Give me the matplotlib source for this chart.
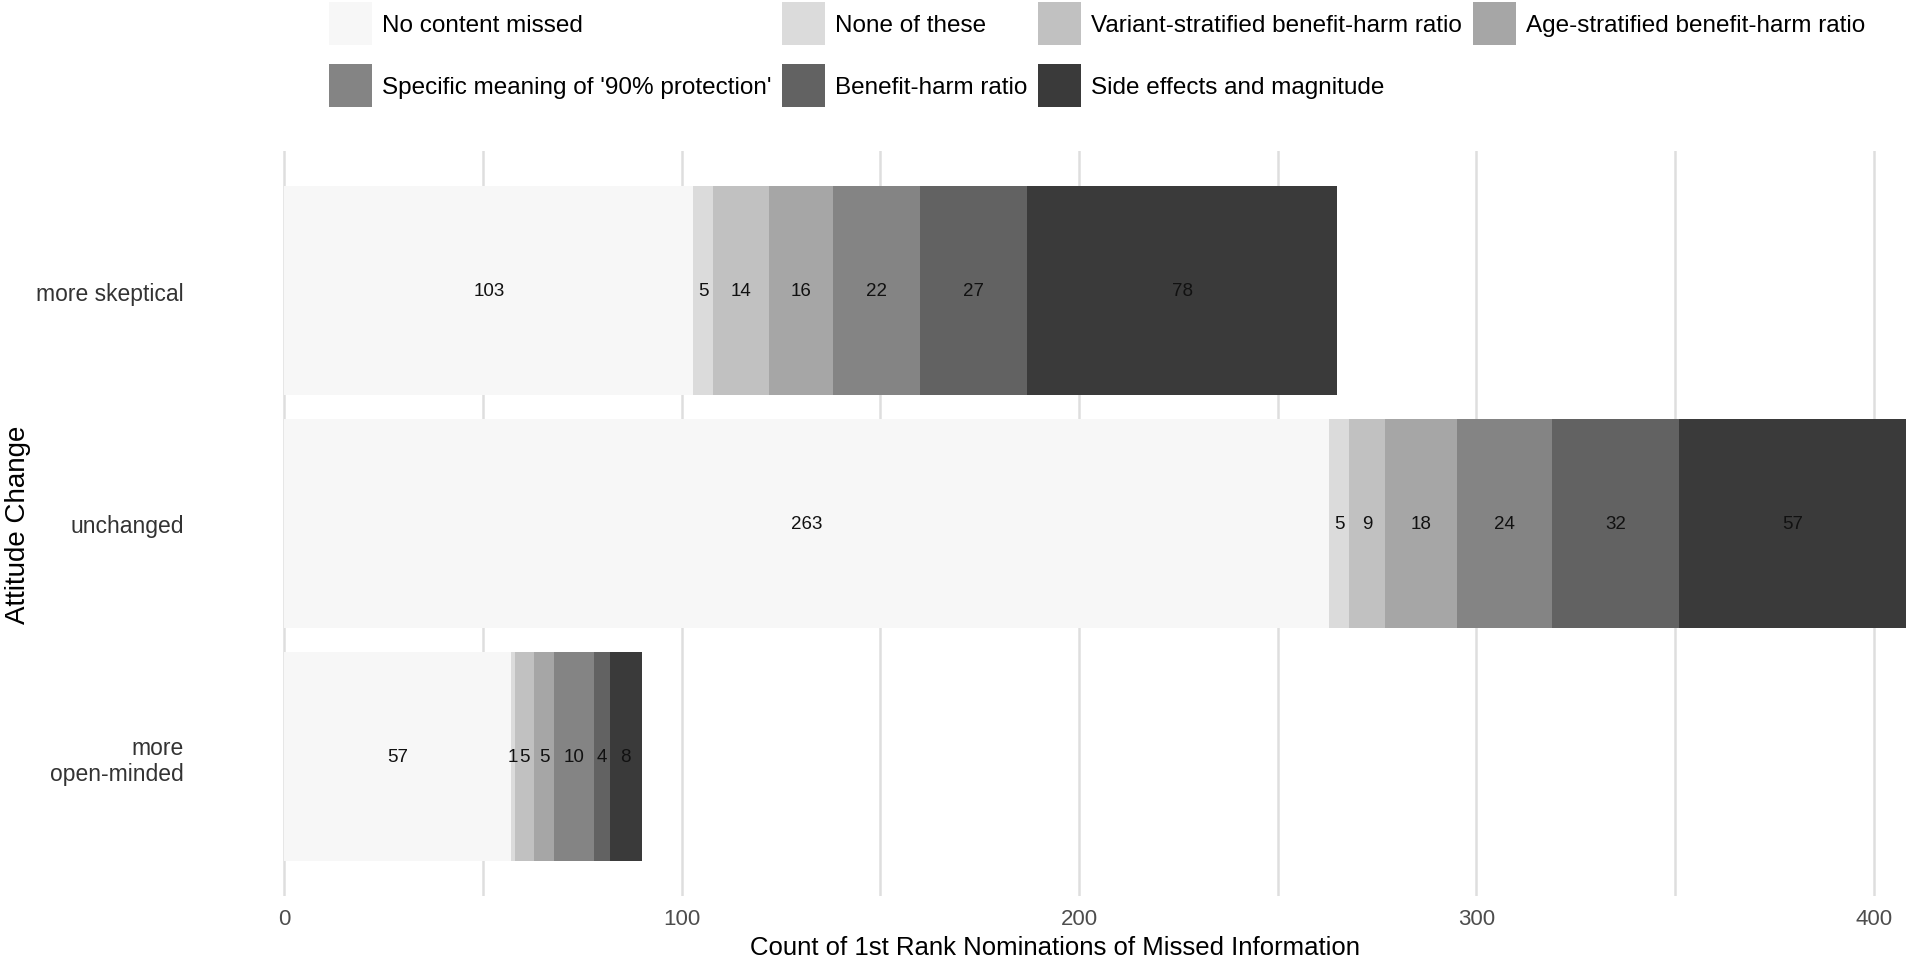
import matplotlib.pyplot as plt
from matplotlib.patches import Patch
import numpy as np

plt.rcParams["font.family"] = ["Liberation Sans", "DejaVu Sans"]

categories = ["more\nopen-minded", "unchanged", "more skeptical"]
segments = [
    "No content missed",
    "None of these",
    "Variant-stratified benefit-harm ratio",
    "Age-stratified benefit-harm ratio",
    "Specific meaning of '90% protection'",
    "Benefit-harm ratio",
    "Side effects and magnitude",
]
# counts per segment, ordered as categories (open-minded, unchanged, skeptical)
no_content = [57, 263, 103]
none_of_these = [1, 5, 5]
variant_ratio = [5, 9, 14]
age_ratio = [5, 18, 16]
meaning_90 = [10, 24, 22]
benefit_harm = [4, 32, 27]
side_effects = [8, 57, 78]

colors = ["#f7f7f7", "#dbdbdb", "#c1c1c1", "#a6a6a6", "#848484", "#626262", "#3a3a3a"]

series = [no_content, none_of_these, variant_ratio, age_ratio,
          meaning_90, benefit_harm, side_effects]

fig = plt.figure(figsize=(19.08, 9.62), dpi=100)
ax = fig.add_axes([203 / 1908, 1 - 897 / 962, 1 - 203 / 1908, (897 - 152) / 962])

y = np.arange(len(categories))
left = np.zeros(len(categories))
for name, vals, col in zip(segments, series, colors):
    bars = ax.barh(y, vals, height=0.9, left=left, color=col, label=name, zorder=2)
    ax.bar_label(bars, labels=[str(v) for v in vals], label_type="center",
                 fontsize=13.5, color="#111111")
    left += np.array(vals)

ax.set_xlim(-20.4, 408.6)
ax.set_ylim(-0.6, 2.6)
ax.set_xticks([0, 100, 200, 300, 400])
ax.set_xticks([50, 150, 250, 350], minor=True)
ax.set_yticks(y)
ax.set_yticklabels(categories, ha="right")
ax.tick_params(axis="both", which="both", length=0)
ax.tick_params(axis="x", labelsize=16, pad=9, labelcolor="#4d4d4d")
ax.tick_params(axis="y", labelsize=16.5, pad=14, labelcolor="#333333")
ax.grid(axis="x", which="both", color="#dedede", linewidth=1.8, zorder=0)
ax.grid(axis="y", visible=False)
for s in ax.spines.values():
    s.set_visible(False)

fig.text(18 / 1908, 1 - 524.5 / 962, "Attitude Change", rotation=90,
         ha="center", va="center", fontsize=20)
fig.text(1055 / 1908, 1 - 948 / 962, "Count of 1st Rank Nominations of Missed Information",
         ha="center", va="center", fontsize=18.5)

# legend filled row-wise like ggplot (matplotlib fills columns)
order = [0, 4, 1, 5, 2, 6, 3]
handles = [Patch(facecolor=colors[i], edgecolor="none") for i in order]
labels = [segments[i] for i in order]
fig.legend(handles, labels, ncol=4, loc="upper left",
           bbox_to_anchor=(329 / 1908, 1 - 3 / 962), frameon=False,
           fontsize=17.5, handlelength=1.77, handleheight=2.35,
           handletextpad=0.4, columnspacing=0.45, labelspacing=0.78,
           borderpad=0, borderaxespad=0)

plt.savefig("out.png", dpi=100)
